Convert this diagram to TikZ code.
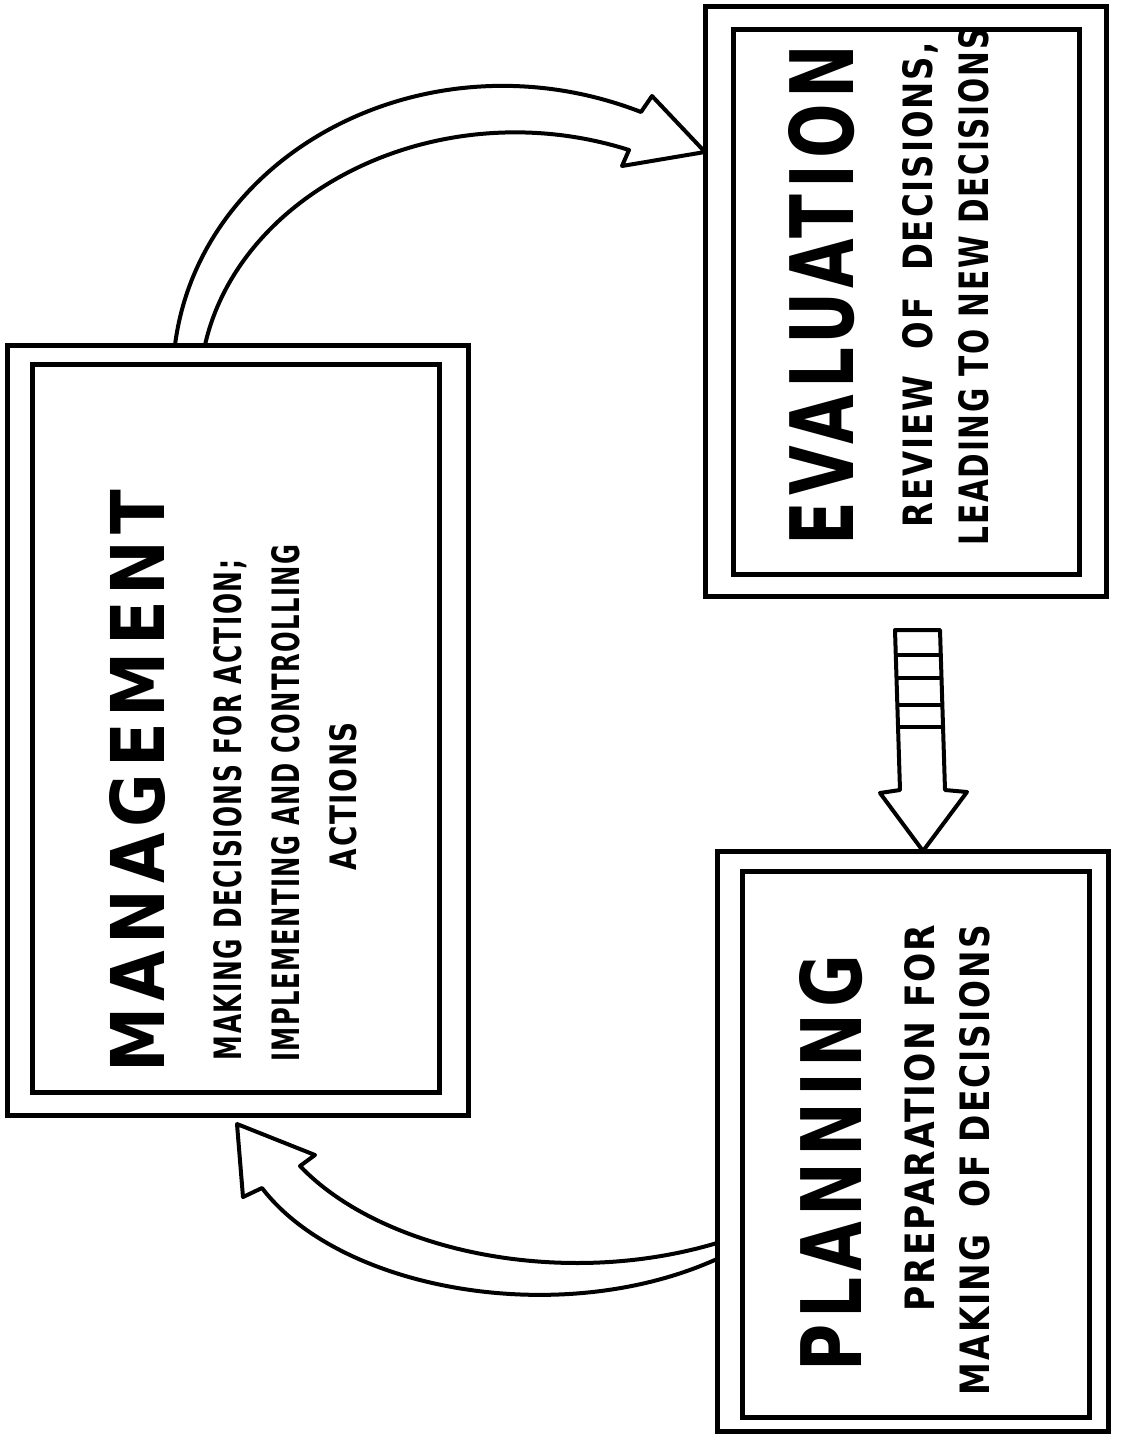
\documentclass[tikz,border=0pt]{standalone}
\usepackage{fontspec}
\setmainfont{DejaVu Sans}
\newfontfamily\titlefont{DejaVu Sans}[LetterSpace=9]
\newfontfamily\linefont{DejaVu Sans}[LetterSpace=6]
\usepackage{graphicx}
% one line of lettering, squeezed to a given length and cap height
\newcommand\fitline[3]{\resizebox{#1pt}{#2pt}{#3}}
\begin{document}
\begin{tikzpicture}[x=1pt,y=-1pt,
  boxframe/.style={draw, line width=5pt, rectangle, inner sep=0pt, outer sep=0pt},
  arrowline/.style={draw, line width=4pt, line join=round, line cap=round},
  title/.style={rotate=90, inner sep=0pt, font=\titlefont\bfseries},
  txt/.style={rotate=90, inner sep=0pt, font=\linefont\bfseries}
]
\useasboundingbox (0,0) rectangle (1121,1437);

% double-framed boxes
\node[boxframe, minimum width=461pt, minimum height=770pt] (mgmt)    at (237.5,730) {};
\node[boxframe, minimum width=407pt, minimum height=728pt] (mgmt-in) at (235.5,728) {};
\node[boxframe, minimum width=401pt, minimum height=589pt] (eval)    at (905.5,301.5) {};
\node[boxframe, minimum width=346pt, minimum height=544pt] (eval-in) at (906,302) {};
\node[boxframe, minimum width=391pt, minimum height=580pt] (plan)    at (912.5,1141) {};
\node[boxframe, minimum width=347pt, minimum height=546pt] (plan-in) at (915.5,1144) {};

% lettering, running bottom to top
\node[title] (mgmt-title) at (138,781) {\fitline{582}{55}{MANAGEMENT}};
\node[txt] (mgmt-l1) at (230,810) {\fitline{500}{28}{MAKING~DECISIONS~FOR~ACTION;}};
\node[txt] (mgmt-l2) at (286,803) {\fitline{517}{28}{IMPLEMENTING~AND~CONTROLLING}};
\node[txt] (mgmt-l3) at (343,796) {\fitline{148}{27}{ACTIONS}};

\node[title] (eval-title) at (822,295) {\fitline{500}{65}{EVALUATION}};
\node[txt] (eval-l1) at (920,285) {\fitline{485}{30}{REVIEW~~OF~~DECISIONS,}};
\node[txt] (eval-l2) at (974,287) {\fitline{517}{30}{LEADING TO NEW DECISIONS}};

\node[title] (plan-title) at (831,1163) {\fitline{417}{62}{PLANNING}};
\node[txt] (plan-l1) at (920,1118) {\fitline{387}{30}{PREPARATION FOR}};
\node[txt] (plan-l2) at (975,1160) {\fitline{470}{30}{MAKING~~OF DECISIONS}};

% hollow curved arrow: management -> evaluation
\coordinate (tipA) at ([yshift=-145pt]eval.north west);
\coordinate (oA) at ([xshift=168pt]mgmt.north west);
\coordinate (iA) at ([xshift=198pt]mgmt.north west);
\draw[arrowline] (oA) .. controls +(25,-195) and +(-211,-82) .. ([shift={(-64,-40)}]tipA)
  -- ([shift={(-53,-56)}]tipA) -- (tipA) -- ([shift={(-83,14)}]tipA)
  -- ([shift={(-76,-2)}]tipA) .. controls +(-189,-60) and +(35,-155) .. (iA);

% hollow curved arrow: planning -> management
\coordinate (tipB) at ([xshift=230pt,yshift=-9pt]mgmt.south west);
\coordinate (pU) at ([yshift=-392pt]plan.north west);
\coordinate (pL) at ([yshift=-408pt]plan.north west);
\draw[arrowline] (pU) .. controls +(-157,47) and +(80,84) .. ([shift={(63,42)}]tipB)
  -- ([shift={(78,31)}]tipB) -- (tipB) -- ([shift={(6,73)}]tipB)
  -- ([shift={(25,64)}]tipB) .. controls +(78,102) and +(-157,71) .. (pL);

% striped block arrow: evaluation -> planning
\coordinate (tipC) at ([xshift=206pt]plan.north west);
\draw[arrowline] ([shift={(-23,-61)}]tipC) -- ([shift={(-28,-221)}]tipC)
  -- ([shift={(17,-221)}]tipC) -- ([shift={(22,-61)}]tipC)
  -- ([shift={(44,-59)}]tipC) -- (tipC) -- ([shift={(-43,-58)}]tipC) -- cycle;
\foreach \s in {-196,-173,-146,-124}
  \draw[line width=3.5pt] ([shift={(-27,\s)}]tipC) -- ([shift={(18,\s)}]tipC);
\end{tikzpicture}
\end{document}
